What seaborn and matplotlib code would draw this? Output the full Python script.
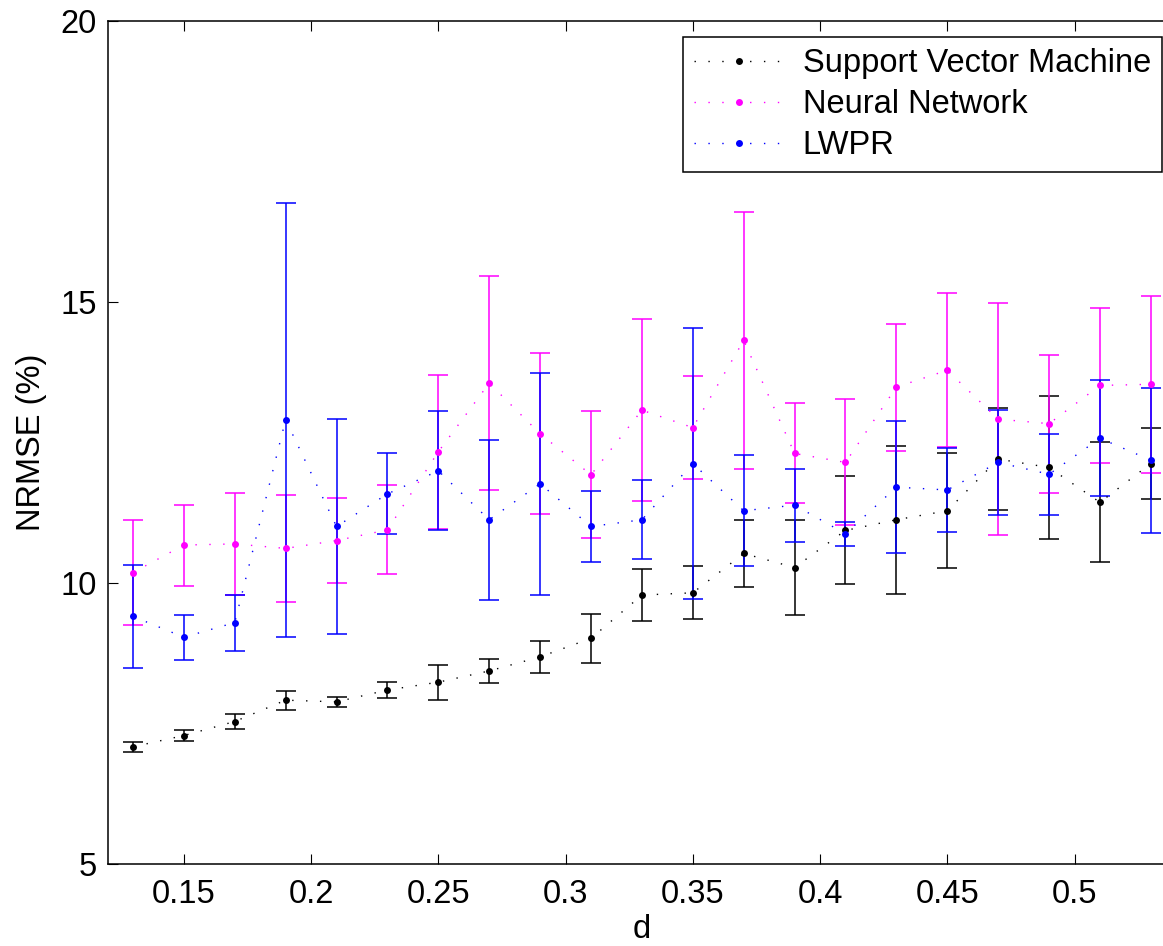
import numpy as np
import pandas as pd
import matplotlib
matplotlib.use("Agg")
import matplotlib.pyplot as plt
from matplotlib.lines import Line2D
import seaborn as sns

# ---- data ----
d_values = [0.13, 0.15, 0.17, 0.19, 0.21, 0.23, 0.25, 0.27, 0.29, 0.31, 0.33,
            0.35, 0.37, 0.39, 0.41, 0.43, 0.45, 0.47, 0.49, 0.51, 0.53]

svm_mean = [7.08, 7.28, 7.53, 7.91, 7.88, 8.09, 8.23, 8.43, 8.68, 9.01, 9.78,
            9.82, 10.52, 10.27, 10.93, 11.12, 11.28, 12.20, 12.05, 11.43, 12.12]
svm_err = [0.09, 0.10, 0.14, 0.17, 0.09, 0.15, 0.31, 0.21, 0.28, 0.43, 0.46,
           0.47, 0.60, 0.85, 0.96, 1.32, 1.02, 0.90, 1.28, 1.07, 0.63]

nn_mean = [10.18, 10.67, 10.69, 10.61, 10.75, 10.94, 12.33, 13.55, 12.65, 11.92, 13.07,
           12.76, 14.31, 12.30, 12.14, 13.48, 13.78, 12.91, 12.83, 13.51, 13.53]
nn_err = [0.94, 0.72, 0.91, 0.95, 0.76, 0.79, 1.37, 1.90, 1.43, 1.13, 1.62,
          0.91, 2.29, 0.89, 1.12, 1.13, 1.37, 2.07, 1.23, 1.38, 1.57]

lwpr_mean = [9.40, 9.03, 9.29, 12.90, 11.00, 11.58, 11.99, 11.12, 11.76, 11.00, 11.12,
             12.12, 11.28, 11.38, 10.87, 11.70, 11.65, 12.14, 11.93, 12.57, 12.18]
lwpr_err = [0.92, 0.40, 0.50, 3.86, 1.92, 0.72, 1.06, 1.42, 1.98, 0.64, 0.70,
            2.41, 0.99, 0.65, 0.21, 1.17, 0.74, 0.93, 0.72, 1.03, 1.29]

model_names = ["Support Vector Machine", "Neural Network", "LWPR"]
model_colors = ["#000000", "#ff00ff", "#0000ff"]

y_ticks = [5, 10, 15, 20]
x_ticks = [0.15, 0.2, 0.25, 0.3, 0.35, 0.4, 0.45, 0.5]
x_ticklabels = ["0.15", "0.2", "0.25", "0.3", "0.35", "0.4", "0.45", "0.5"]

df = pd.DataFrame({
    "d": d_values * 3,
    "nrmse": svm_mean + nn_mean + lwpr_mean,
    "err": svm_err + nn_err + lwpr_err,
    "model": sum([[m] * len(d_values) for m in model_names], []),
})

# ---- style ----
sns.set_style("ticks")
FS = 23.5
plt.rcParams["font.family"] = ["Liberation Sans", "DejaVu Sans"]
plt.rcParams["font.size"] = FS
for key in ["text.color", "axes.labelcolor", "xtick.color", "ytick.color", "axes.edgecolor"]:
    plt.rcParams[key] = "black"

W, H = 1163, 946
fig = plt.figure(figsize=(W / 100, H / 100), dpi=100)
ax_left, ax_right = 107.5, 1176.3
ax_top, ax_bottom = 20.7, 863.7
ax_w, ax_h = ax_right - ax_left, ax_bottom - ax_top
ax = fig.add_axes([ax_left / W, 1 - ax_bottom / H, ax_w / W, ax_h / H])

dot_style = (0, (1, 9))
palette = dict(zip(model_names, model_colors))

for name, col in zip(model_names, model_colors):
    sub = df[df["model"] == name]
    ax.errorbar(sub["d"], sub["nrmse"], yerr=sub["err"], fmt="none",
                ecolor=col, elinewidth=1.1, capsize=7.2, capthick=1.1, zorder=2)

sns.lineplot(data=df, x="d", y="nrmse", hue="model", hue_order=model_names,
             palette=palette, linestyle=dot_style, linewidth=1.0,
             marker="o", markersize=5, markeredgewidth=0,
             legend=False, ax=ax, zorder=3)

ax.set_xlim(0.12, 0.54)
ax.set_ylim(5, 20)
ax.set_xticks(x_ticks)
ax.set_xticklabels(x_ticklabels)
ax.set_yticks(y_ticks)
ax.tick_params(direction="in", length=7.2, width=0.8, top=True, right=True,
               labelsize=FS, colors="black")
ax.tick_params(axis="x", pad=11)
ax.tick_params(axis="y", pad=7.5)
for sp in ax.spines.values():
    sp.set_visible(True)
    sp.set_linewidth(1.1)
    sp.set_color("black")

ax.set_xlabel("d", fontsize=FS)
ax.set_ylabel("NRMSE (%)", fontsize=FS)
ax.xaxis.set_label_coords(0.5, -(914 - ax_bottom) / ax_h)
ax.yaxis.set_label_coords(-(ax_left - 47) / ax_w, 0.5)

handles = [Line2D([], [], color=c, linestyle=dot_style, linewidth=1.0,
                  marker="o", markersize=5, markeredgewidth=0)
           for c in model_colors]
leg = ax.legend(handles, model_names, loc="upper right",
                bbox_to_anchor=(1161.7 / W, 1 - 37.3 / H), bbox_transform=fig.transFigure,
                fancybox=False, framealpha=1, edgecolor="black", fontsize=FS,
                handlelength=2.76, handletextpad=0.57, labelspacing=0.31,
                borderpad=0.33, borderaxespad=0, numpoints=1)
leg.get_frame().set_linewidth(1.1)

fig.savefig("out.png", dpi=100)
